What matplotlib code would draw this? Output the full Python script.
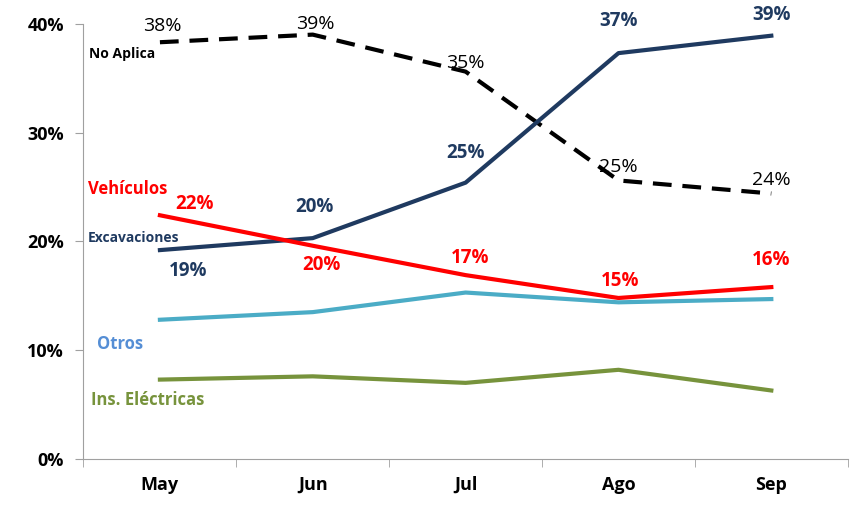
import matplotlib.pyplot as plt
from matplotlib.ticker import FuncFormatter

months = ['May', 'Jun', 'Jul', 'Ago', 'Sep']

no_aplica = [38.3, 39.0, 35.6, 25.6, 24.4]
excavaciones = [19.2, 20.3, 25.4, 37.3, 38.9]
vehiculos = [22.4, 19.6, 16.9, 14.8, 15.8]
otros = [12.8, 13.5, 15.3, 14.4, 14.7]
ins_electricas = [7.3, 7.6, 7.0, 8.2, 6.3]

# labels shown on the chart (rounded as in the original)
no_aplica_lbl = ['38%', '39%', '35%', '25%', '24%']
excav_lbl = ['19%', '20%', '25%', '37%', '39%']
vehic_lbl = ['22%', '20%', '17%', '15%', '16%']

plt.rcParams['font.family'] = ['Open Sans', 'DejaVu Sans']

fig = plt.figure(figsize=(8.52, 5.05), dpi=100)
ax = fig.add_axes([0.098, 0.091, 0.897, 0.862])

navy = '#1F3A60'
red = '#FF0000'
cyan = '#4BACC6'
green = '#77933C'

x = list(range(len(months)))
ax.plot(x, no_aplica, color='black', lw=3, dashes=(4.5, 2.6))
ax.plot(x, excavaciones, color=navy, lw=3)
ax.plot(x, vehiculos, color=red, lw=3)
ax.plot(x, otros, color=cyan, lw=3)
ax.plot(x, ins_electricas, color=green, lw=3)

# data labels
off_na = [(2, 5), (2, 1), (0, 0), (0, 3), (0, 3)]
for i, v in enumerate(no_aplica):
    ax.annotate(no_aplica_lbl[i], (i, v), xytext=off_na[i], textcoords='offset points',
                ha='center', va='bottom', fontsize=14, color='black')
off_ex = [(20, -8), (1, 15), (0, 14), (0, 16), (0, 8)]
for i, v in enumerate(excavaciones):
    va = 'top' if off_ex[i][1] < 0 else 'bottom'
    ax.annotate(excav_lbl[i], (i, v), xytext=off_ex[i], textcoords='offset points',
                ha='center', va=va, fontsize=13.5, color=navy, fontweight='bold')
off_ve = [(25, 1), (6, -7), (3, 5), (1, 5), (0, 12)]
for i, v in enumerate(vehiculos):
    va = 'top' if off_ve[i][1] < 0 else 'bottom'
    ax.annotate(vehic_lbl[i], (i, v), xytext=off_ve[i], textcoords='offset points',
                ha='center', va=va, fontsize=13.5, color=red, fontweight='bold')

# series names
ax.text(-0.465, 37.2, 'No Aplica', fontsize=10, color='black', fontweight='bold', va='center')
ax.text(-0.47, 24.8, 'Vehículos', fontsize=12, color=red, fontweight='bold', va='center')
ax.text(-0.47, 20.3, 'Excavaciones', fontsize=10, color=navy, fontweight='bold', va='center')
ax.text(-0.41, 10.6, 'Otros', fontsize=12, color='#558ED5', fontweight='bold', va='center')
ax.text(-0.45, 5.4, 'Ins. Eléctricas', fontsize=12, color=green, fontweight='bold', va='center')

ax.set_xlim(-0.5, 4.5)
ax.set_ylim(0, 40)
ax.set_yticks([0, 10, 20, 30, 40])
ax.yaxis.set_major_formatter(FuncFormatter(lambda v, p: '%d%%' % v))
ax.set_xticks(x)
ax.set_xticklabels(months)
ax.set_xticks([i - 0.5 for i in range(len(months) + 1)], minor=True)
ax.tick_params(axis='x', which='major', length=0, pad=12)
ax.tick_params(axis='x', which='minor', length=6, color='#A0A0A0', direction='out')
ax.tick_params(axis='y', length=6, color='#A0A0A0', pad=8)
for lab in ax.get_xticklabels() + ax.get_yticklabels():
    lab.set_fontsize(13)
    lab.set_fontweight('bold')

for s in ['top', 'right']:
    ax.spines[s].set_visible(False)
ax.spines['left'].set_color('#A0A0A0')
ax.spines['bottom'].set_color('#A0A0A0')

fig.savefig('out.png', dpi=100)
